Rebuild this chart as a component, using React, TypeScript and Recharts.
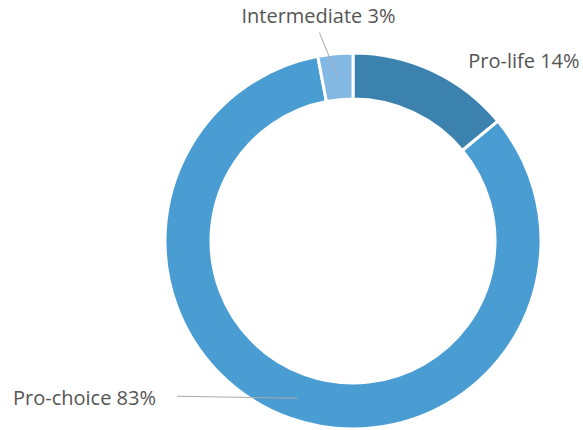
import { PieChart, Pie, Cell } from "recharts"

const categories = ["Pro-life", "Pro-choice", "Intermediate"]
const shares = [14, 83, 3]
const colors = ["#3b82ae", "#4a9dd2", "#82b8e3"]

const data = categories.map((name, i) => ({ name, value: shares[i] }))

const RAD = Math.PI / 180

const renderLabel = (props: any) => {
  const { cx, cy, midAngle, innerRadius, outerRadius, index, name, value } = props
  const r = (innerRadius + outerRadius) / 2
  const mx = cx + r * Math.cos(-midAngle * RAD)
  const my = cy + r * Math.sin(-midAngle * RAD)
  const text = `${name} ${value}%`
  const textStyle = { fontFamily: "'Open Sans', sans-serif", fontSize: 20, fontWeight: 400, fill: "#555" }

  if (index === 0) {
    // Pro-life: label only, no leader line
    return (
      <text x={mx + 45} y={my - 31} textAnchor="start" dominantBaseline="central" style={textStyle}>
        {text}
      </text>
    )
  }
  if (index === 2) {
    return (
      <g>
        <line x1={mx} y1={my} x2={mx - 18} y2={my - 44} stroke="#aaa" strokeWidth={1} />
        <text x={mx - 19} y={my - 61} textAnchor="middle" dominantBaseline="central" style={textStyle}>
          {text}
        </text>
      </g>
    )
  }
  return (
    <g>
      <line x1={mx} y1={my + 2} x2={177} y2={my} stroke="#aaa" strokeWidth={1} />
      <text x={156} y={my + 1} textAnchor="end" dominantBaseline="central" style={textStyle}>
        {text}
      </text>
    </g>
  )
}

export default function App() {
  return (
    <div style={{ position: "absolute", left: 0, top: 0, width: 583, height: 430, background: "#fff" }}>
      <PieChart width={583} height={430} margin={{ top: 0, right: 0, bottom: 0, left: 0 }}>
        <Pie
          data={data}
          dataKey="value"
          nameKey="name"
          cx={353}
          cy={241}
          innerRadius={142}
          outerRadius={188}
          startAngle={90}
          endAngle={-270}
          stroke="#fff"
          strokeWidth={3}
          label={renderLabel}
          labelLine={false}
          isAnimationActive={false}
        >
          {data.map((d, i) => (
            <Cell key={d.name} fill={colors[i]} />
          ))}
        </Pie>
      </PieChart>
    </div>
  )
}
